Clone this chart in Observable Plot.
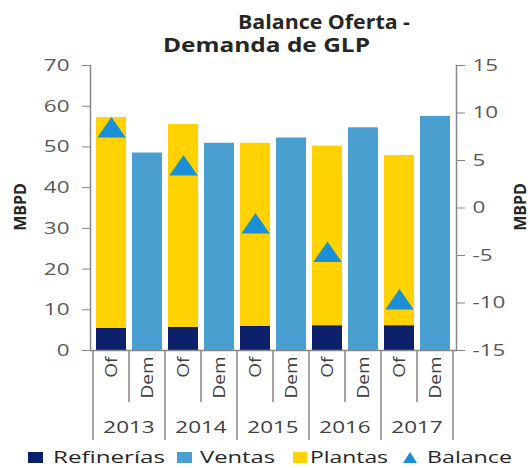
<!DOCTYPE html>
<html><head><meta charset="utf-8">
<script src="https://cdn.jsdelivr.net/npm/d3@7"></script>
<script src="https://cdn.jsdelivr.net/npm/@observablehq/plot@0.6"></script>
<style>body{margin:0;background:#fff;}</style>
</head><body><div id="chart"></div>
<script>
// ---- data ----
const years = ["2013", "2014", "2015", "2016", "2017"];
const kinds = ["Of", "Dem"];
const refinerias = [5.4, 5.7, 5.9, 6.1, 6.1];
const plantas = [51.8, 49.8, 45.0, 44.1, 41.8];
const ventas = [48.5, 50.9, 52.2, 54.7, 57.5];
const balance = [8.5, 4.5, -1.6, -4.6, -9.6];
const leftTicks = [0, 10, 20, 30, 40, 50, 60, 70];
const rightTicks = [-15, -10, -5, 0, 5, 10, 15];
const seriesNames = ["Refinerías", "Ventas", "Plantas", "Balance"];
const seriesColors = ["#0c1f6b", "#4a9fd1", "#ffd200", "#1a8fd8"];
const titleLines = ["Balance Oferta -", "Demanda de GLP"];
const axisLabel = "MBPD";

// ---- derived tables ----
const keys = years.flatMap(y => kinds.map(k => y + "|" + k));
const stackData = [];
years.forEach((y, i) => {
  stackData.push({key: y + "|Of", serie: "Refinerías", v: refinerias[i]});
  stackData.push({key: y + "|Of", serie: "Plantas", v: plantas[i]});
  stackData.push({key: y + "|Dem", serie: "Ventas", v: ventas[i]});
});
const balData = years.map((y, i) => ({key: y + "|Of", b: balance[i]}));
const leftDomain = [0, 70], rightDomain = [-15, 15];
const toLeft = b => leftDomain[0] + (b - rightDomain[0]) * (leftDomain[1] - leftDomain[0]) / (rightDomain[1] - rightDomain[0]);
const fromLeft = v => rightDomain[0] + (v - leftDomain[0]) * (rightDomain[1] - rightDomain[0]) / (leftDomain[1] - leftDomain[0]);

const flatTri = {
  draw(ctx, size) {
    const s = Math.sqrt(size);
    const hw = s * 0.8, h = s * 1.15;
    ctx.moveTo(0, -h / 2);
    ctx.lineTo(hw, h / 2);
    ctx.lineTo(-hw, h / 2);
    ctx.closePath();
  }
};

const axisGray = "#868686";
const font = "'Open Sans', sans-serif";

const plot = Plot.plot({
  width: 530, height: 468,
  marginTop: 65, marginBottom: 118, marginLeft: 90, marginRight: 74,
  style: {fontFamily: font, fontSize: "17px", background: "#fff", overflow: "visible"},
  x: {type: "band", domain: keys, paddingInner: 0.18, paddingOuter: 0.09},
  y: {domain: leftDomain},
  color: {domain: seriesNames, range: seriesColors},
  marks: [
    Plot.barY(stackData, {x: "key", y: "v", fill: "serie", order: ["Refinerías", "Plantas", "Ventas"]}),
    Plot.ruleY([0], {stroke: axisGray, strokeWidth: 1.5}),
    Plot.frame({anchor: "left", stroke: axisGray, strokeWidth: 1.5}),
    Plot.frame({anchor: "right", stroke: axisGray, strokeWidth: 1.5}),
    Plot.dot(balData, {x: "key", y: d => toLeft(d.b), symbol: flatTri, r: 10, fill: seriesColors[3], stroke: "none"}),
    Plot.axisY(leftTicks, {anchor: "left", tickSize: 8, tickPadding: 13, stroke: axisGray, fill: "#595959", fontSize: 17, tickFormat: d => String(d), label: null}),
    Plot.axisY(rightTicks.map(toLeft), {anchor: "right", tickSize: 8, tickPadding: 8, stroke: axisGray, fill: "#595959", fontSize: 17, tickFormat: d => String(Math.round(fromLeft(d))), label: null}),
    Plot.axisX({anchor: "bottom", tickRotate: -90, tickSize: 0, tickPadding: 6, fill: "#404040", fontSize: 17, tickFormat: k => k.split("|")[1], label: null})
  ]
});
document.getElementById("chart").appendChild(plot);

const svg = d3.select(plot);
const xs = plot.scale("x");
const bw = xs.bandwidth;
const step = xs.apply(keys[1]) - xs.apply(keys[0]);
const gap = step - bw;
const x0 = xs.apply(keys[0]) - gap / 2;
const y0 = 350;

// separators under the axis
const g = svg.append("g").attr("stroke", axisGray).attr("stroke-width", 1.5);
for (let i = 0; i <= keys.length; i++) {
  const x = x0 + i * step;
  g.append("line").attr("x1", x).attr("x2", x).attr("y1", y0).attr("y2", i % 2 === 0 ? 440 : 402);
}
// year labels
years.forEach(y => {
  const cx = (xs.apply(y + "|Of") + xs.apply(y + "|Dem") + bw) / 2;
  svg.append("text").attr("x", cx).attr("y", 433).attr("text-anchor", "middle")
    .attr("font-family", font).attr("font-size", 17).attr("fill", "#404040").attr("class", "stretch").text(y);
});

// axis titles
[[20, 207], [520, 207]].forEach(([x, y]) => {
  svg.append("text").attr("transform", `translate(${x},${y}) rotate(-90)`)
    .attr("text-anchor", "middle").attr("dominant-baseline", "central")
    .attr("font-family", font).attr("font-size", 16).attr("font-weight", "bold").attr("fill", "#262626").text(axisLabel);
});

// title
svg.append("text").attr("x", 238).attr("y", 29).attr("text-anchor", "start").attr("font-family", font).attr("font-size", 19)
  .attr("font-weight", "bold").attr("fill", "#262626").attr("textLength", 172).attr("lengthAdjust", "spacingAndGlyphs").text(titleLines[0]);
svg.append("text").attr("x", 163).attr("y", 52).attr("text-anchor", "start").attr("font-family", font).attr("font-size", 19)
  .attr("font-weight", "bold").attr("fill", "#262626").attr("textLength", 207).attr("lengthAdjust", "spacingAndGlyphs").text(titleLines[1]);

// legend
const leg = [
  {sx: 28, sw: 15, tx: 53, tl: 112},
  {sx: 177, sw: 15, tx: 200, tl: 75},
  {sx: 293, sw: 14, tx: 310, tl: 78},
  {sx: 403, sw: 14, tx: 427, tl: 85}
];
seriesNames.forEach((name, i) => {
  const L = leg[i];
  if (name === "Balance") {
    svg.append("path").attr("d", `M${L.sx + L.sw / 2},452 L${L.sx + L.sw},463 L${L.sx},463 Z`).attr("fill", seriesColors[i]);
  } else {
    svg.append("rect").attr("x", L.sx).attr("y", 452).attr("width", L.sw).attr("height", 11).attr("fill", seriesColors[i]);
  }
  svg.append("text").attr("x", L.tx).attr("y", 463).attr("text-anchor", "start").attr("font-family", font).attr("font-size", 16)
    .attr("fill", "#262626").attr("textLength", L.tl).attr("lengthAdjust", "spacingAndGlyphs").text(name);
});

// widen tick labels to match the reference's proportions
svg.selectAll('g[aria-label="y-axis tick label"] text, text.stretch').each(function () {
  const w = this.getComputedTextLength();
  this.setAttribute("textLength", w * 1.32);
  this.setAttribute("lengthAdjust", "spacingAndGlyphs");
});
svg.selectAll('g[aria-label="x-axis tick label"] text').each(function () {
  const w = this.getComputedTextLength();
  this.setAttribute("textLength", w * 1.12);
  this.setAttribute("lengthAdjust", "spacingAndGlyphs");
});
</script>
</body></html>
